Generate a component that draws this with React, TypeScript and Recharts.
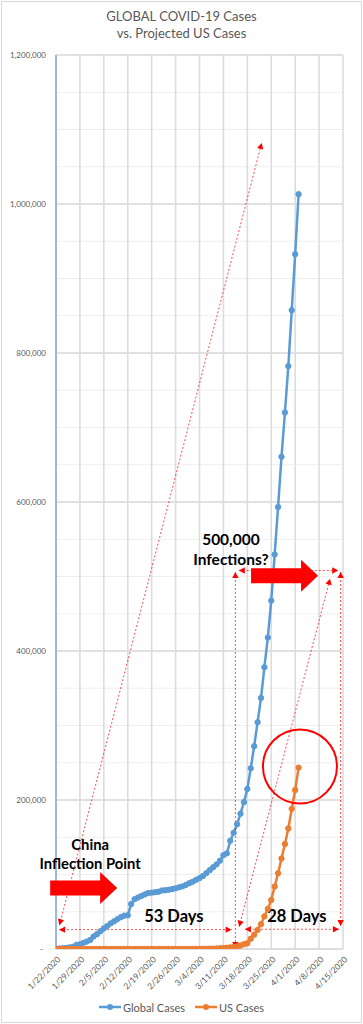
import React from "react";
import {
  LineChart,
  Line,
  XAxis,
  YAxis,
  CartesianGrid,
  Legend,
  ReferenceLine,
  ReferenceDot,
} from "recharts";

// ---------- data ----------
const titleLines = ["GLOBAL COVID-19 Cases", "vs. Projected US Cases"];

// day index 0 = 1/22/2020
const xTickDays = [0, 7, 14, 21, 28, 35, 42, 49, 56, 63, 70, 77, 84];
const xTickLabels = [
  "1/22/2020", "1/29/2020", "2/5/2020", "2/12/2020", "2/19/2020", "2/26/2020",
  "3/4/2020", "3/11/2020", "3/18/2020", "3/25/2020", "4/1/2020", "4/8/2020", "4/15/2020",
];

const globalCases = [
  555, 654, 941, 1434, 2118, 2927, 5578, 6166, 8234, 9927,
  12038, 16787, 19881, 23892, 27635, 30794, 34391, 37120, 40150, 42762,
  44802, 45221, 60368, 66885, 69030, 71224, 73258, 75136, 75639, 76197,
  76819, 78572, 78958, 79561, 80406, 81388, 82746, 84112, 86011,
  88369, 90306, 92840, 95120, 97886, 101801, 105847, 109821, 113590, 118620,
  125875, 128352, 145205, 156101, 167454, 181574, 197102, 214821, 242570, 272208,
  304507, 336953, 378235, 418045, 467653, 529591, 593291, 660706, 720117, 782365,
  857487, 932605, 1013157,
];

const usCases = [
  1, 1, 2, 2, 5, 5, 5, 5, 5, 7,
  8, 8, 11, 11, 11, 11, 11, 11, 11, 11,
  12, 12, 13, 13, 13, 13, 13, 13, 13, 13,
  15, 15, 15, 51, 51, 57, 58, 60, 68,
  74, 98, 118, 149, 217, 262, 402, 518, 583, 959,
  1281, 1663, 2179, 2727, 3499, 4632, 6421, 7783, 13747, 19273,
  25600, 33276, 43843, 53740, 65778, 83836, 101657, 121478, 140886, 161807,
  188172, 213372, 243453,
];

const yMinorTicks = [
  0, 50000, 100000, 150000, 200000, 250000, 300000, 350000, 400000, 450000,
  500000, 550000, 600000, 650000, 700000, 750000, 800000, 850000, 900000, 950000,
  1000000, 1050000, 1100000, 1150000, 1200000,
];
const yMajorTicks = [0, 200000, 400000, 600000, 800000, 1000000, 1200000];

// annotation anchors (day, cases)
const dottedArrows = [
  { from: { x: 1.0, y: 32000 }, to: { x: 60.2, y: 1082000 }, start: true, end: true },
  { from: { x: 0.9, y: 26000 }, to: { x: 51.4, y: 26000 }, start: true, end: true },
  { from: { x: 52.5, y: 506000 }, to: { x: 52.5, y: 1500 }, start: true, end: true },
  { from: { x: 53.5, y: 508000 }, to: { x: 82.6, y: 508000 }, start: true, end: true },
  { from: { x: 83.3, y: 506000 }, to: { x: 83.3, y: 31000 }, start: true, end: true },
  { from: { x: 55.3, y: 26500 }, to: { x: 82.8, y: 26500 }, start: true, end: true },
  { from: { x: 53.6, y: 30000 }, to: { x: 80.2, y: 497000 }, start: true, end: true },
];
const blockArrows = [
  { x: 17.9, y: 82000 },
  { x: 76.7, y: 501000 },
];
const textNotes = [
  { x: 10.0, y: 127000, lines: ["China", "Inflection Point"], size: 14.8 },
  { x: 34.5, y: 44000, lines: ["53 Days"], size: 16.5 },
  { x: 70.5, y: 44000, lines: ["28 Days"], size: 16.5 },
  { x: 51.2, y: 536000, lines: ["500,000", "Infections?"], size: 15.5 },
];
const circleNote = { x: 71.4, y: 245000 };

const data = globalCases.map((g, i) => ({ day: i, global: g, us: usCases[i] }));

// ---------- styles ----------
const BLUE = "#5B9BD5";
const ORANGE = "#ED7D31";
const RED = "#ff0000";
const GRAY_TEXT = "#595959";
const FONT = "Lato, 'Open Sans', sans-serif";

const arrowHead = (tx: number, ty: number, fx: number, fy: number) => {
  const dx = tx - fx;
  const dy = ty - fy;
  const len = Math.sqrt(dx * dx + dy * dy) || 1;
  const ux = dx / len;
  const uy = dy / len;
  const L = 6;
  const W = 3.2;
  const bx = tx - ux * L;
  const by = ty - uy * L;
  const px = -uy;
  const py = ux;
  return `${tx},${ty} ${bx + px * W},${by + py * W} ${bx - px * W},${by - py * W}`;
};

const DottedArrowShape = (p: any) => {
  const { x1, y1, x2, y2, start, end } = p;
  return (
    <g>
      <line
        x1={x1}
        y1={y1}
        x2={x2}
        y2={y2}
        stroke={RED}
        strokeOpacity={0.7}
        strokeWidth={1}
        strokeDasharray="2 2"
      />
      {start && <polygon points={arrowHead(x1, y1, x2, y2)} fill={RED} />}
      {end && <polygon points={arrowHead(x2, y2, x1, y1)} fill={RED} />}
    </g>
  );
};

const BlockArrowShape = (p: any) => {
  const { cx, cy } = p;
  const pts = [
    [cx - 67, cy - 7.5],
    [cx - 17, cy - 7.5],
    [cx - 17, cy - 16],
    [cx, cy],
    [cx - 17, cy + 16],
    [cx - 17, cy + 7.5],
    [cx - 67, cy + 7.5],
  ]
    .map((q) => q.join(","))
    .join(" ");
  return <polygon points={pts} fill={RED} />;
};

const TextShape = (p: any) => {
  const { cx, cy, lines, size } = p;
  const lh = size * 1.3;
  const top = cy - ((lines.length - 1) * lh) / 2;
  return (
    <text
      textAnchor="middle"
      fontFamily={FONT}
      fontWeight={700}
      fontSize={size}
      fill="#000"
    >
      {lines.map((t: string, i: number) => (
        <tspan key={i} x={cx} y={top + i * lh} dy="0.35em">
          {t}
        </tspan>
      ))}
    </text>
  );
};

const CircleShape = (p: any) => (
  <circle cx={p.cx} cy={p.cy} r={37} fill="none" stroke={RED} strokeWidth={2} />
);

const XTick = (p: any) => {
  const { x, y, payload } = p;
  const idx = xTickDays.indexOf(payload.value);
  const label = idx >= 0 ? xTickLabels[idx] : "";
  const ax = x + 3;
  const ay = y + 9;
  return (
    <text
      x={ax}
      y={ay}
      transform={`rotate(-45 ${ax} ${ay})`}
      textAnchor="end"
      dy="0.35em"
      fontFamily={FONT}
      fontSize={8.5}
      fill={GRAY_TEXT}
    >
      {label}
    </text>
  );
};

const YTick = (p: any) => {
  const { x, y, payload } = p;
  const v = payload.value;
  if (v % 200000 !== 0) return <g />;
  const label = v === 0 ? "-" : v.toLocaleString("en-US");
  return (
    <text
      x={v === 0 ? x - 13 : x - 10}
      y={y}
      dy="0.35em"
      textAnchor="end"
      fontFamily={FONT}
      fontSize={8}
      fill={GRAY_TEXT}
    >
      {label}
    </text>
  );
};

const LegendContent = () => {
  const item = (color: string, text: string) => (
    <div style={{ display: "flex", alignItems: "center", marginRight: 10 }}>
      <svg width={22} height={10} style={{ marginRight: 2 }}>
        <line x1={0} y1={5} x2={22} y2={5} stroke={color} strokeWidth={2.5} />
        <circle cx={11} cy={5} r={3} fill={color} />
      </svg>
      <span style={{ fontFamily: FONT, fontSize: 11, color: GRAY_TEXT }}>{text}</span>
    </div>
  );
  return (
    <div
      style={{
        display: "flex",
        justifyContent: "center",
        alignItems: "center",
        height: 26,
        paddingLeft: 10,
      }}
    >
      {item(BLUE, "Global Cases")}
      {item(ORANGE, "US Cases")}
    </div>
  );
};

export default function App() {
  return (
    <div
      style={{
        position: "absolute",
        left: 0,
        top: 0,
        width: 363,
        height: 1024,
        background: "#fff",
        overflow: "hidden",
      }}
    >
      <div
        style={{
          position: "absolute",
          left: 1,
          top: 1,
          width: 359,
          height: 1020,
          border: "1px solid #d9d9d9",
        }}
      />
      <div
        style={{
          position: "absolute",
          left: 0,
          top: 8,
          width: 363,
          textAlign: "center",
          fontFamily: FONT,
          fontSize: 13,
          lineHeight: "17px",
          color: GRAY_TEXT,
        }}
      >
        {titleLines.map((t, i) => (
          <div key={i}>{t}</div>
        ))}
      </div>
      <div style={{ position: "absolute", left: 0, top: 0 }}>
        <LineChart
          width={363}
          height={1024}
          data={data}
          margin={{ top: 55, right: 20, left: 0, bottom: 0 }}
        >
          <CartesianGrid
            vertical={false}
            horizontalValues={yMinorTicks}
            stroke="#efefef"
            strokeWidth={1.2}
          />
          <CartesianGrid
            vertical={false}
            horizontalValues={yMajorTicks}
            stroke="#dadada"
            strokeWidth={1.5}
          />
          <CartesianGrid
            horizontal={false}
            verticalValues={xTickDays}
            stroke="#dcdcdc"
            strokeWidth={1.6}
          />
          <XAxis
            dataKey="day"
            type="number"
            domain={[0, 84]}
            ticks={xTickDays}
            interval={0}
            tick={<XTick />}
            tickLine={false}
            tickSize={0}
            tickMargin={0}
            height={45}
            axisLine={{ stroke: "#d9d9d9" }}
            allowDataOverflow
          />
          <YAxis
            type="number"
            domain={[0, 1200000]}
            ticks={yMinorTicks}
            interval={0}
            tick={<YTick />}
            tickLine={false}
            tickSize={0}
            tickMargin={0}
            width={56}
            axisLine={{ stroke: "#8fb4e0", strokeWidth: 1.8 }}
            allowDataOverflow
          />
          <Legend
            verticalAlign="bottom"
            height={30}
            wrapperStyle={{ left: 0, width: 363 }}
            content={<LegendContent />}
          />
          <Line
            type="linear"
            dataKey="global"
            name="Global Cases"
            stroke={BLUE}
            strokeWidth={2.5}
            dot={{ r: 2.7, fill: BLUE, stroke: BLUE, strokeWidth: 1 }}
            activeDot={false}
            isAnimationActive={false}
          />
          <Line
            type="linear"
            dataKey="us"
            name="US Cases"
            stroke={ORANGE}
            strokeWidth={2.5}
            dot={{ r: 2.7, fill: ORANGE, stroke: ORANGE, strokeWidth: 1 }}
            activeDot={false}
            isAnimationActive={false}
          />
          {dottedArrows.map((a, i) => (
            <ReferenceLine
              key={`da${i}`}
              segment={[a.from, a.to]}
              ifOverflow="visible"
              shape={(p: any) => <DottedArrowShape {...p} start={a.start} end={a.end} />}
            />
          ))}
          {blockArrows.map((b, i) => (
            <ReferenceDot
              key={`ba${i}`}
              x={b.x}
              y={b.y}
              ifOverflow="visible"
              shape={(p: any) => <BlockArrowShape {...p} />}
            />
          ))}
          <ReferenceDot
            x={circleNote.x}
            y={circleNote.y}
            ifOverflow="visible"
            shape={(p: any) => <CircleShape {...p} />}
          />
          {textNotes.map((t, i) => (
            <ReferenceDot
              key={`tn${i}`}
              x={t.x}
              y={t.y}
              ifOverflow="visible"
              shape={(p: any) => <TextShape {...p} lines={t.lines} size={t.size} />}
            />
          ))}
        </LineChart>
      </div>
    </div>
  );
}
